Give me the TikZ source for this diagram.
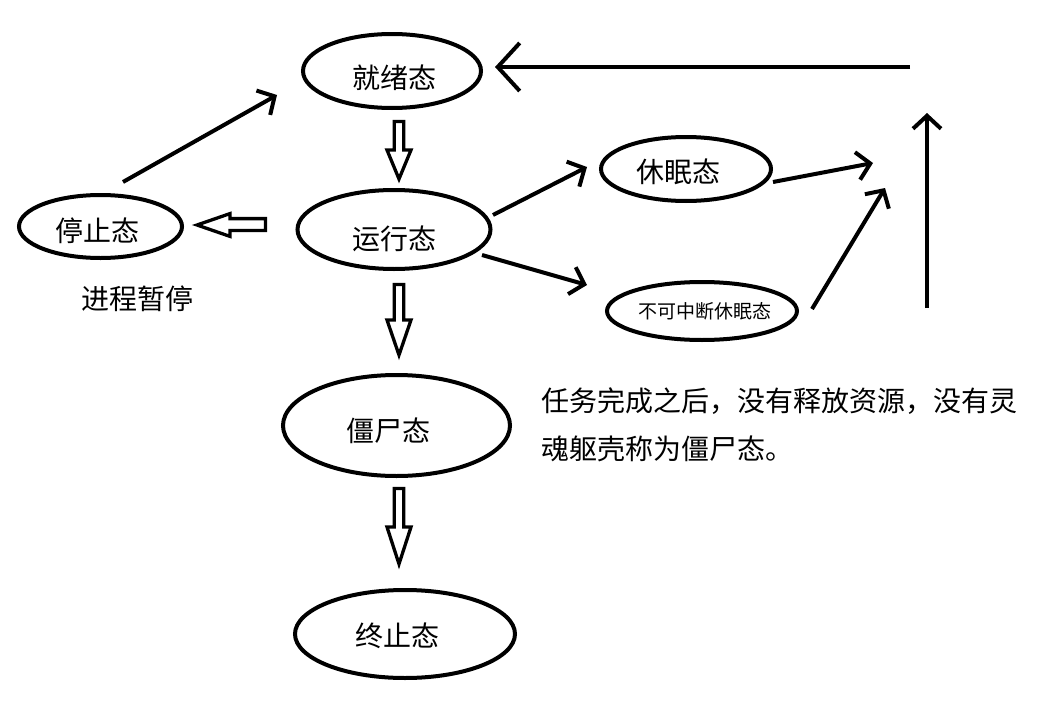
\documentclass[tikz,border=0pt]{standalone}
\usepackage{fontspec}
\setmainfont{Noto Sans CJK SC}
\usetikzlibrary{arrows.meta,shapes.geometric}
% text shifted inside a node: #1 = twice the horizontal shift, #2 = downward shift
\newcommand\shtext[3]{\raisebox{\dimexpr-0.38em-#2pt\relax}[0pt][0pt]{\makebox[0pt][c]{\hspace*{#1pt}#3}}}
\begin{document}
\begin{tikzpicture}[x=1pt,y=-1pt,
  state/.style={ellipse, draw, line width=4pt, inner sep=0pt, font=\fontsize{28}{34}\selectfont},
  arr/.style={line width=4pt, -{Straight Barb[length=13pt,width=28pt]}},
  bigarr/.style={line width=4pt, -{Straight Barb[length=22pt,width=48pt]}},
  hollow/.style={draw, line width=3.3pt, line join=miter, fill=white},
  txt/.style={inner sep=0pt, font=\fontsize{28}{34}\selectfont}]

\fill[white] (0,0) rectangle (1042,704);
\useasboundingbox (0,0) rectangle (1042,704);

% states
\node[state, minimum width=178pt, minimum height=74pt] (ready) at (392,71) {\shtext{4}{6.5}{就绪态}};
\node[state, minimum width=193pt, minimum height=79pt] (run) at (394,229.5) {\shtext{0}{9}{运行态}};
\node[state, minimum width=163pt, minimum height=63pt] (stop) at (100.5,226.5) {\shtext{-7}{4.5}{停止态}};
\node[state, minimum width=170pt, minimum height=64pt] (sleep) at (686,169) {\shtext{-16}{2.5}{休眠态}};
\node[state, minimum width=190pt, minimum height=58pt, font=\fontsize{19}{23}\selectfont] (dsleep) at (702,311) {\shtext{6}{0.5}{不可中断休眠态}};
\node[state, minimum width=227pt, minimum height=101pt] (zombie) at (396.5,425.5) {\shtext{-16}{5}{僵尸态}};
\node[state, minimum width=220pt, minimum height=88pt] (term) at (405,634) {\shtext{-15}{1.5}{终止态}};

% texts
\node[txt, anchor=base] (pause) at (137.5,309) {进程暂停};
\node[txt, anchor=base west] (desc1) at (541.5,411.6) {任务完成之后，没有释放资源，没有灵};
\node[txt, anchor=base west] (desc2) at (541.5,459.6) {魂躯壳称为僵尸态。};

% connector end points
\coordinate (s1) at (123,182);   \coordinate (s2) at (277,95);
\coordinate (h1) at (910,67);    \coordinate (h2) at (495,67);
\coordinate (v1) at (927,308);   \coordinate (v2) at (927,113);
\coordinate (r1) at (493,215);   \coordinate (r2) at (587,167);
\coordinate (r3) at (482,255);   \coordinate (r4) at (587,285);
\coordinate (p1) at (773,182);   \coordinate (p2) at (873,163);
\coordinate (q1) at (812,309);   \coordinate (q2) at (885,188);

\draw[arr] (s1) -- (s2);
\draw[bigarr] (h1) -- (h2);
\draw[arr] (v1) -- (v2);
\draw[arr] (r1) -- (r2);
\draw[arr] (r3) -- (r4);
\draw[arr] (p1) -- (p2);
\draw[arr] (q1) -- (q2);

% hollow arrows
\draw[hollow] (394.3,121.5) -- (403.7,121.5) -- (403.7,150) -- (411,150) -- (399,179) -- (387,150) -- (394.3,150) -- cycle;
\draw[hollow] (394.3,284.5) -- (403.7,284.5) -- (403.7,320) -- (411,320) -- (399,355) -- (387,320) -- (394.3,320) -- cycle;
\draw[hollow] (394.3,488.5) -- (403.7,488.5) -- (403.7,527) -- (411,527) -- (399,564) -- (387,527) -- (394.3,527) -- cycle;
\draw[hollow] (265.5,218.6) -- (230,218.6) -- (230,213.6) -- (197,225) -- (230,236.4) -- (230,230.4) -- (265.5,230.4) -- cycle;
\end{tikzpicture}
\end{document}
